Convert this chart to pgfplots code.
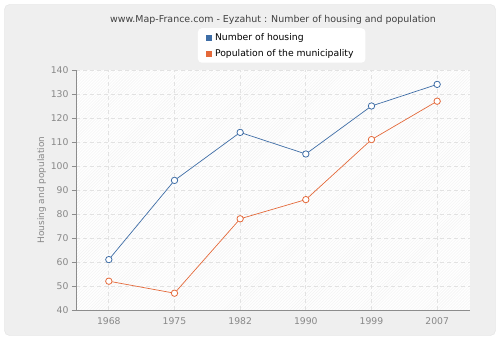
\documentclass[border=0pt]{standalone}
\usepackage{pgfplots}
\pgfplotsset{compat=1.18}
\usepackage{fontspec}
\setmainfont{DejaVu Sans}
\usetikzlibrary{patterns}
\definecolor{hous}{HTML}{3E6DA6}
\definecolor{popc}{HTML}{E4693A}
\definecolor{bgc}{HTML}{EFEFEF}
\definecolor{tickc}{HTML}{888888}
\definecolor{gridc}{HTML}{E2E2E2}
\begin{document}
\begin{tikzpicture}
\fill[white] (-76bp,-30bp) rectangle (424bp,310bp);
\draw[fill=bgc, draw=gridc, rounded corners=5bp] (-71.5bp,-25.5bp) rectangle (419.5bp,305.5bp);
\fill[white] (0,0) rectangle (394bp,240bp);
\fill[pattern=north east lines, pattern color=black!5] (0,0) rectangle (394bp,240bp);
\begin{axis}[
  at={(0,0)}, anchor=south west,
  scale only axis, width=394bp, height=240bp,
  xmin=-0.5, xmax=5.5, ymin=40, ymax=140,
  xtick={0,...,5}, xticklabels={1968,1975,1982,1990,1999,2007},
  ytick={40,50,...,140},
  axis x line*=bottom, axis y line*=left,
  axis line style={draw=black!45, line width=0.8pt},
  x axis line style={-}, y axis line style={-},
  tick style={draw=black!45, line width=0.8pt},
  xtick style={draw=none},
  tick align=outside, major tick length=4bp,
  grid=major, major grid style={draw=gridc, dashed, line width=0.8pt, dash pattern=on 4bp off 3bp},
  ticklabel style={font=\fontsize{9.3}{11}\selectfont, text=tickc},
  /pgf/number format/assume math mode=true,
  ylabel={Housing and population},
  ylabel style={font=\fontsize{9}{11}\selectfont, text=tickc, yshift=-2bp},
  title={www.Map-France.com - Eyzahut : Number of housing and population},
  title style={font=\fontsize{9.5}{11}\selectfont, text=black!75, at={(0.5,1)}, yshift=36bp, anchor=south},
  legend style={at={(0.522,1.175)}, anchor=north, draw=none, fill=white, rounded corners=4bp,
     font=\fontsize{9.3}{11}\selectfont, row sep=3.5pt, inner xsep=8pt, inner ysep=3pt,
     nodes={inner xsep=4pt}},
  legend cell align=left,
]
\addlegendimage{only marks, mark=square*, mark size=2.6bp, mark options={fill=hous, draw=hous}}
\addlegendentry{Number of housing}
\addlegendimage{only marks, mark=square*, mark size=2.6bp, mark options={fill=popc, draw=popc}}
\addlegendentry{Population of the municipality}
\addplot[forget plot, color=hous, line width=0.7pt, mark=*, mark size=3.2bp, mark options={fill=white, draw=hous, line width=0.8pt}]
  coordinates {(0,61) (1,94) (2,114) (3,105) (4,125) (5,134)};
\addplot[forget plot, color=popc, line width=0.7pt, mark=*, mark size=3.2bp, mark options={fill=white, draw=popc, line width=0.8pt}]
  coordinates {(0,52) (1,47) (2,78) (3,86) (4,111) (5,127)};
\end{axis}
\end{tikzpicture}
\end{document}
